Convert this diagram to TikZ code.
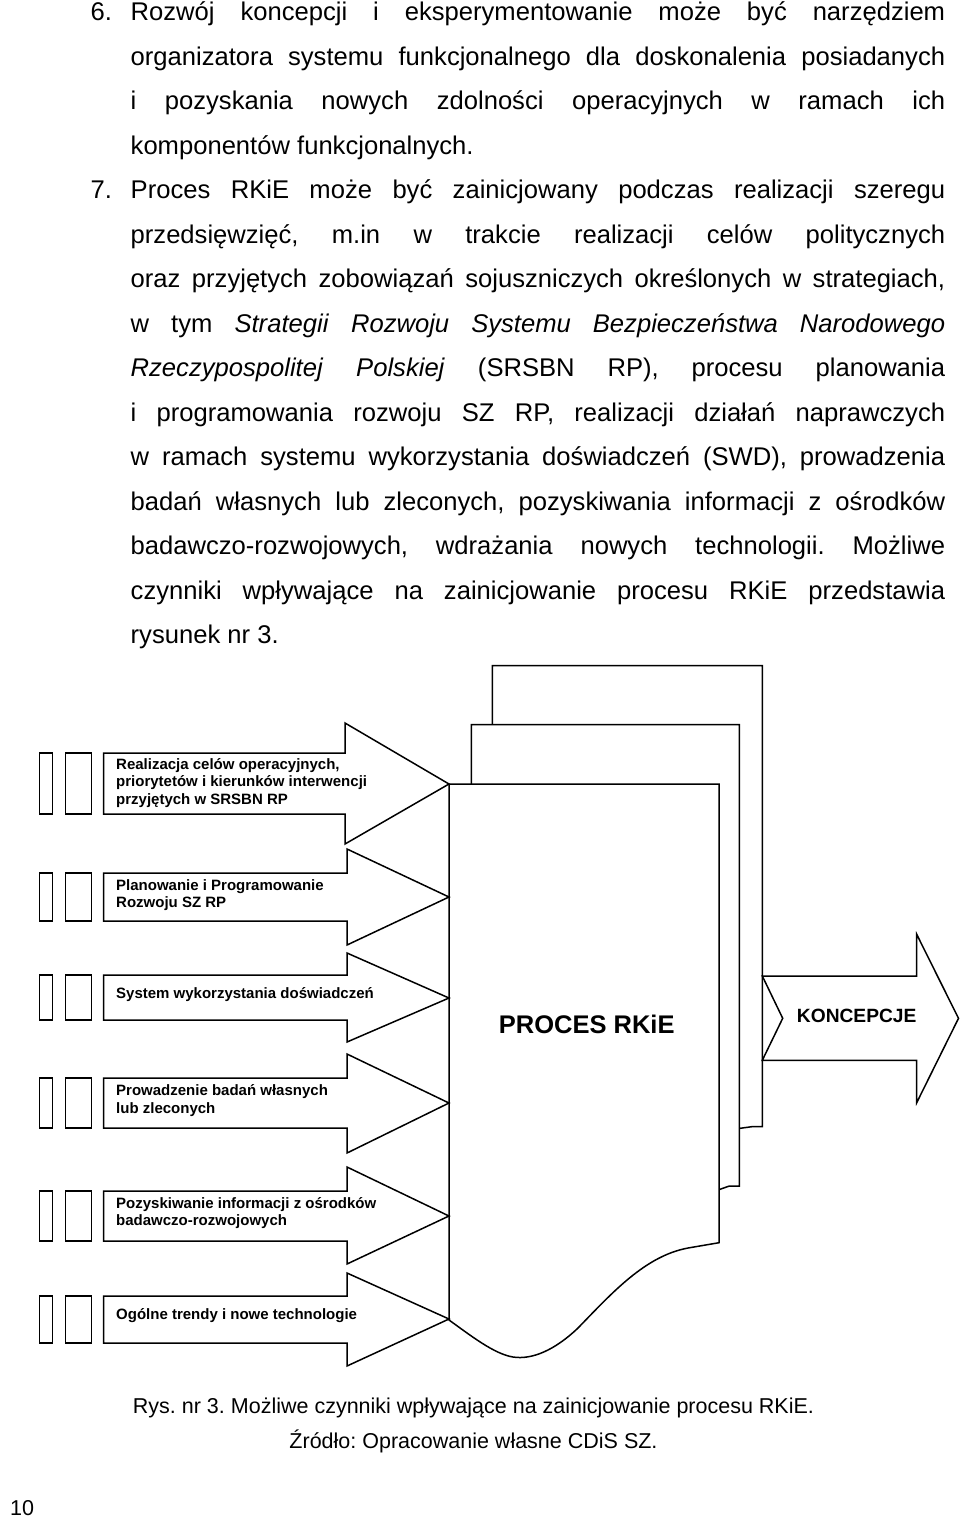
\documentclass[tikz,border=0pt]{standalone}
\usepackage{fontspec}
\setmainfont{Liberation Sans}
\usetikzlibrary{positioning}

\newcommand{\bodyfont}{\fontsize{25.6}{29.4}\selectfont}
\newcommand{\capfont}{\fontsize{21.5}{24.7}\selectfont}
\newcommand{\factfont}{\fontsize{15}{17.4}\selectfont\bfseries}
\newcommand{\jline}[1]{\makebox[814.5pt][s]{#1}}
\frenchspacing

\begin{document}
\begin{tikzpicture}[x=1pt,y=-1pt,line join=miter]

    % Define node styles
    \tikzstyle{bodytxt} = [anchor=base west, inner sep=0pt, font=\bodyfont]
    \tikzstyle{captxt} = [anchor=base, inner sep=0pt, font=\capfont]
    \tikzstyle{factor} = [anchor=west, align=left, inner sep=0pt, font=\factfont]
    \tikzstyle{sheet} = [draw, fill=white, line width=1.5pt]
    \tikzstyle{flow} = [draw, fill=white, line width=1.5pt]

    \useasboundingbox (0,0) rectangle (960,1519);

    % Text above the figure
    \node [bodytxt] (n6) at (90.5,20.5) {6.};
    \node [bodytxt] (l1) at (130.5,20.5) {\jline{Rozwój koncepcji i eksperymentowanie może być narzędziem}};
    \node [bodytxt] (l2) at (130.5,65) {\jline{organizatora systemu funkcjonalnego dla doskonalenia posiadanych}};
    \node [bodytxt] (l3) at (130.5,109.5) {\jline{i pozyskania nowych zdolności operacyjnych w ramach ich}};
    \node [bodytxt] (l4) at (130.5,154) {komponentów funkcjonalnych.};
    \node [bodytxt] (n7) at (90.5,198.5) {7.};
    \node [bodytxt] (l5) at (130.5,198.5) {\jline{Proces RKiE może być zainicjowany podczas realizacji szeregu}};
    \node [bodytxt] (l6) at (130.5,243) {\jline{przedsięwzięć, m.in w trakcie realizacji celów politycznych}};
    \node [bodytxt] (l7) at (130.5,287.5) {\jline{oraz przyjętych zobowiązań sojuszniczych określonych w strategiach,}};
    \node [bodytxt] (l8) at (130.5,332) {\jline{w tym \textit{Strategii} \textit{Rozwoju} \textit{Systemu} \textit{Bezpieczeństwa} \textit{Narodowego}}};
    \node [bodytxt] (l9) at (130.5,376.5) {\jline{\textit{Rzeczypospolitej} \textit{Polskiej} (SRSBN RP), procesu planowania}};
    \node [bodytxt] (l10) at (130.5,421) {\jline{i programowania rozwoju SZ RP, realizacji działań naprawczych}};
    \node [bodytxt] (l11) at (130.5,465.5) {\jline{w ramach systemu wykorzystania doświadczeń (SWD), prowadzenia}};
    \node [bodytxt] (l12) at (130.5,510) {\jline{badań własnych lub zleconych, pozyskiwania informacji z ośrodków}};
    \node [bodytxt] (l13) at (130.5,554.5) {\jline{badawczo-rozwojowych, wdrażania nowych technologii. Możliwe}};
    \node [bodytxt] (l14) at (130.5,599) {\jline{czynniki wpływające na zainicjowanie procesu RKiE przedstawia}};
    \node [bodytxt] (l15) at (130.5,643.5) {rysunek nr 3.};

    % Stacked sheets of the process
    \path [sheet] (492.3,665.7) -- (762.3,665.7) -- (762.3,1126.7) -- (751.7,1126.7)
        -- (740,1128.3) -- (492.3,1140) -- cycle;
    \path [sheet] (471.3,724.7) -- (739.3,724.7) -- (739.3,1186) -- (729.3,1186)
        -- (720,1189.3) -- (471.3,1200) -- cycle;
    \path [sheet] (449,784) -- (719,784) -- (719,1242.7) -- (688,1248)
        .. controls (645,1256) and (612,1293) .. (578,1328)
        .. controls (555,1350) and (532,1360) .. (513,1357)
        .. controls (494,1354) and (470,1335) .. (449,1320) -- cycle;
    \node [inner sep=0pt, font=\fontsize{25.5}{29}\selectfont\bfseries] (proc) at (586.7,1024.3) {PROCES RKiE};

    % Input arrows with their markers
    \foreach \t/\b/\ht/\hb/\tp/\nx in {753/814/723/844/784/345, 873/921/849/945/897/347,
        975/1020/953/1042/998/347, 1078/1128/1054/1153/1103/347,
        1191/1241/1167/1264/1216/347, 1296/1343/1273/1366/1319/347}{
        \draw [line width=1.5pt] (39.3,\t) rectangle (52.7,\b);
        \draw [line width=1.5pt] (65.3,\t) rectangle (91.3,\b);
        \path [flow] (103.7,\t) -- (\nx,\t) -- (\nx,\ht) -- (449,\tp) -- (\nx,\hb)
            -- (\nx,\b) -- (103.7,\b) -- cycle;
    }
    \node [factor] (f1) at (116,783) {Realizacja celów operacyjnych,\\priorytetów i kierunków interwencji\\przyjętych w SRSBN RP};
    \node [factor] (f2) at (116,895) {Planowanie i Programowanie\\Rozwoju SZ RP};
    \node [factor] (f3) at (116,995) {System wykorzystania doświadczeń};
    \node [factor] (f4) at (116,1100.5) {Prowadzenie badań własnych\\lub zleconych};
    \node [factor] (f5) at (116,1213) {Pozyskiwanie informacji z ośrodków\\badawczo-rozwojowych};
    \node [factor] (f6) at (116,1316) {Ogólne trendy i nowe technologie};

    % Output arrow
    \path [flow] (762.3,976) -- (916.7,976) -- (916.7,934.3) -- (958.5,1018.3) -- (916.7,1102.7)
        -- (916.7,1060.3) -- (762.3,1060.3) -- (782.7,1018.3) -- cycle;
    \node [inner sep=0pt, font=\fontsize{19.2}{22}\selectfont\bfseries] (konc) at (856.7,1016) {KONCEPCJE};

    % Caption and page number
    \node [captxt] (cap1) at (473.5,1413.3) {Rys. nr 3. Możliwe czynniki wpływające na zainicjowanie procesu RKiE.};
    \node [captxt] (cap2) at (473.5,1448.3) {Źródło: Opracowanie własne CDiS SZ.};
    \node [captxt, anchor=base west] (page) at (10,1515) {10};

\end{tikzpicture}
\end{document}
